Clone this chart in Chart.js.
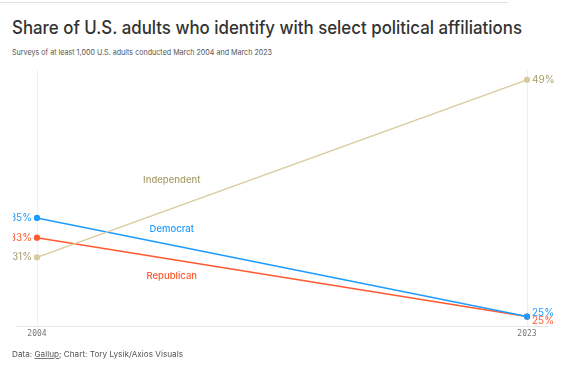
<!DOCTYPE html>
<html>
<head>
<meta charset="utf-8">
<script src="https://cdn.jsdelivr.net/npm/chart.js@4.4.0/dist/chart.umd.min.js"></script>
<style>
  html, body { margin: 0; padding: 0; background: #fff; }
  body { width: 571px; height: 377px; position: relative; overflow: hidden; font-family: Inter, "Noto Sans", sans-serif; }
  #rule { position: absolute; left: 0; top: 2px; width: 508px; height: 1px; background: #e2e2e2; }
  .fit { position: absolute; left: 12px; white-space: nowrap; transform-origin: 0 0; }
  #title { top: 17px; font-size: 18px; font-weight: 500; color: #333; }
  #subtitle { top: 48px; font-size: 7.6px; color: #555; }
  #footer { top: 349px; font-size: 8px; color: #555; }
  #footer u { text-decoration-color: #777; }
  #wrap { position: absolute; left: 0; top: 0; width: 571px; height: 377px; }
</style>
</head>
<body>
<div id="rule"></div>
<div id="title" class="fit" data-w="510">Share of U.S. adults who identify with select political affiliations</div>
<div id="subtitle" class="fit" data-w="260">Surveys of at least 1,000 U.S. adults conducted March 2004 and March 2023</div>
<div id="wrap"><canvas id="chart"></canvas></div>
<div id="footer" class="fit" data-w="171">Data: <u>Gallup</u>; Chart: Tory Lysik/Axios Visuals</div>
<script>
const years = ['2004', '2023'];
const seriesNames = ['Independent', 'Democrat', 'Republican'];
const independent = [31, 49];
const democrat = [35, 25];
const republican = [33, 25];

const lineColors = ['#d8cc9e', '#1e9bff', '#ff5a30'];
const textColors = ['#a89e6c', '#1e9bff', '#ff5a30'];

// pixel nudges for the labels (end labels that overlap, series name labels)
const endNudge = [0, -4, 4];
const nameNudge = [-28, -16, 17];

// squeeze the html text to the widths of the original
document.querySelectorAll('.fit').forEach(el => {
  const w = el.getBoundingClientRect().width;
  el.style.transform = 'scaleX(' + (Number(el.dataset.w) / w) + ')';
});

const labelPlugin = {
  id: 'labels',
  afterDatasetsDraw(chart) {
    const ctx = chart.ctx;
    ctx.save();
    ctx.textBaseline = 'middle';
    chart.data.datasets.forEach((ds, i) => {
      const pts = chart.getDatasetMeta(i).data;
      ctx.fillStyle = textColors[i];
      ctx.font = '10px Inter, "Noto Sans", sans-serif';
      // left values, cut at the left edge like the original
      ctx.save();
      ctx.beginPath();
      ctx.rect(13, 0, 600, 400);
      ctx.clip();
      ctx.textAlign = 'right';
      ctx.fillText(ds.data[0] + '%', pts[0].x - 5, pts[0].y);
      ctx.restore();
      ctx.textAlign = 'left';
      ctx.fillText(ds.data[1] + '%', pts[1].x + 5, pts[1].y + endNudge[i]);
      // series name
      const f = 0.275;
      const x = pts[0].x + (pts[1].x - pts[0].x) * f;
      const y = pts[0].y + (pts[1].y - pts[0].y) * f + nameNudge[i];
      ctx.textAlign = 'center';
      ctx.font = '500 9.5px Inter, "Noto Sans", sans-serif';
      ctx.fillText(ds.label, x, y);
    });
    ctx.restore();
  },
  beforeDatasetsDraw(chart) {
    const ctx = chart.ctx;
    const area = chart.chartArea;
    ctx.save();
    ctx.strokeStyle = '#e6e6e6';
    ctx.lineWidth = 1;
    ctx.beginPath();
    ctx.moveTo(area.left - 21, Math.round(area.bottom) + 0.5);
    ctx.lineTo(area.right + 21, Math.round(area.bottom) + 0.5);
    ctx.stroke();
    ctx.restore();
  }
};

new Chart(document.getElementById('chart'), {
  type: 'line',
  data: {
    labels: years,
    datasets: [independent, democrat, republican].map((d, i) => ({
      label: seriesNames[i],
      data: d,
      borderColor: lineColors[i],
      backgroundColor: lineColors[i],
      borderWidth: 1.5,
      pointRadius: 2.4,
      pointHoverRadius: 2.4,
      tension: 0
    }))
  },
  options: {
    responsive: true,
    maintainAspectRatio: false,
    animation: false,
    layout: { padding: { left: 37, right: 44, top: 70, bottom: 35 } },
    plugins: { legend: { display: false }, tooltip: { enabled: false }, title: { display: false } },
    scales: {
      x: {
        offset: false,
        border: { display: false },
        grid: { color: '#efefef', drawTicks: false },
        ticks: { color: '#777', font: { family: '"DejaVu Sans Mono", monospace', size: 8 }, padding: 3, maxRotation: 0 }
      },
      y: { display: false, min: 24, max: 50 }
    }
  },
  plugins: [labelPlugin]
});
</script>
</body>
</html>
